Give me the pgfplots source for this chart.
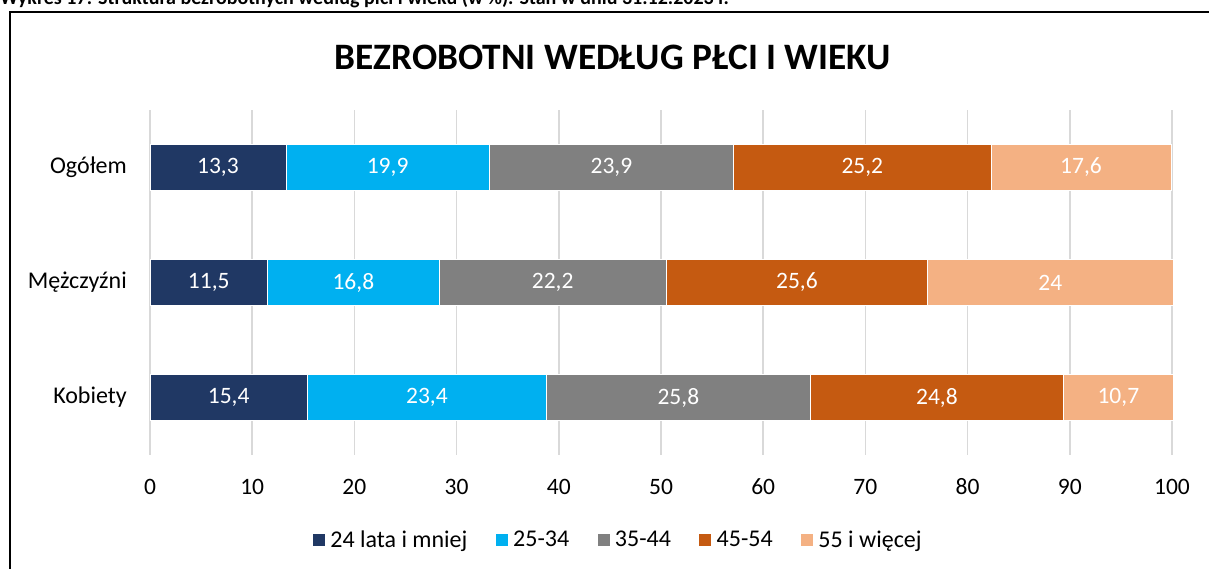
\documentclass[border=0pt]{standalone}
\usepackage{pgfplots}
\pgfplotsset{compat=1.18}
\usepackage{fontspec}
\setmainfont{Carlito}
\definecolor{c1}{HTML}{203864}
\definecolor{c2}{HTML}{00B0F0}
\definecolor{c3}{HTML}{808080}
\definecolor{c4}{HTML}{C55A11}
\definecolor{c5}{HTML}{F4B183}
\definecolor{gridc}{HTML}{D9D9D9}
\begin{document}
\begin{tikzpicture}[x=1pt,y=1pt]
\useasboundingbox (0,0) rectangle (1209,568);
\clip (0,0) rectangle (1209,568);
\node[anchor=base west, inner sep=0pt, font=\fontsize{20}{24}\selectfont\bfseries] at (0,563) {Wykres 17. Struktura bezrobotnych według płci i wieku (w \%). Stan w dniu 31.12.2023 r.};
\draw[line width=2.5pt] (10,-5) -- (10,556) -- (1215,556);
\node[font=\fontsize{37.3}{45}\selectfont\bfseries, inner sep=0pt] at (613,511) {BEZROBOTNI WEDŁUG PŁCI I WIEKU};
\begin{axis}[
  at={(150pt,113pt)}, anchor=south west,
  scale only axis, width=1022pt, height=345pt,
  xbar stacked, bar width=46pt,
  xmin=0, xmax=100, ymin=-0.5, ymax=2.5, y dir=reverse,
  clip=false,
  xtick={0,10,...,100},
  ytick={0,1,2}, yticklabels={Ogółem,Mężczyźni,Kobiety},
  axis line style={draw=none},
  tick style={draw=none},
  major tick length=0pt,
  xmajorgrids, grid style={gridc, line width=1.5pt},
  /pgf/number format/assume math mode=true,
  /pgf/number format/use comma,
  ticklabel style={font=\fontsize{23.5}{28}\selectfont},
  xticklabel style={anchor=center, yshift=-32pt},
  yticklabel style={anchor=east, inner sep=0pt, xshift=-23pt, font=\fontsize{24}{28}\selectfont},
  point meta=x,
  visualization depends on=rawx \as \rawx,
  nodes near coords={\pgfmathprintnumber{\rawx}},
  every node near coord/.append style={anchor=center, text=white, font=\fontsize{23.5}{28}\selectfont},
  legend style={at={(0.459,-0.246)}, anchor=center, draw=none, legend columns=-1, font=\fontsize{24}{28}\selectfont, nodes={inner xsep=4.5pt}, /tikz/every even column/.append style={column sep=23pt}},
  legend image code/.code={\fill[#1] (0pt,-6.5pt) rectangle (13pt,6.5pt);},
]
\addplot[fill=c1, draw=white, line width=0.75pt] coordinates {(13.3,0) (11.5,1) (15.4,2)};
\addplot[fill=c2, draw=white, line width=0.75pt] coordinates {(19.9,0) (16.8,1) (23.4,2)};
\addplot[fill=c3, draw=white, line width=0.75pt] coordinates {(23.9,0) (22.2,1) (25.8,2)};
\addplot[fill=c4, draw=white, line width=0.75pt] coordinates {(25.2,0) (25.6,1) (24.8,2)};
\addplot[fill=c5, draw=white, line width=0.75pt] coordinates {(17.6,0) (24,1) (10.7,2)};
\legend{24 lata i mniej,25-34,35-44,45-54,55 i więcej}
\end{axis}
\end{tikzpicture}
\end{document}
